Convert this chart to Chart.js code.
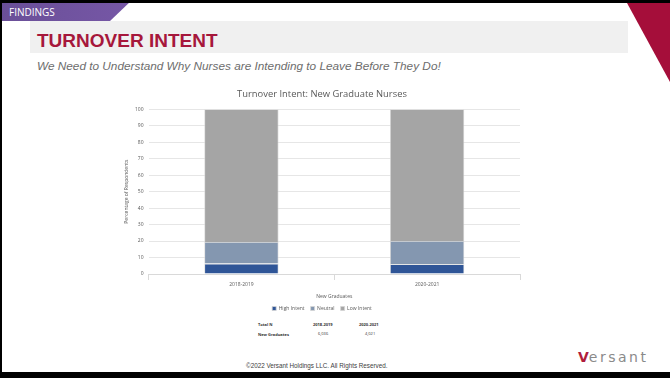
<!DOCTYPE html>
<html>
<head>
<meta charset="utf-8">
<script src="https://cdn.jsdelivr.net/npm/chart.js@4.4.1/dist/chart.umd.min.js"></script>
<style>
  body { margin: 0; background: #fff; }
  #slide { position: relative; width: 670px; height: 378px; overflow: hidden; background: #fff; font-family: "Liberation Sans", Arial, sans-serif; }
  #frame-top { position: absolute; left: 0; top: 0; width: 670px; height: 3px; background: #000; }
  #frame-left { position: absolute; left: 0; top: 0; width: 2px; height: 378px; background: #000; }
  #frame-bottom { position: absolute; left: 0; top: 372px; width: 670px; height: 6px; background: #000; }
  #deco { position: absolute; left: 0; top: 0; }
  #band { position: absolute; left: 30px; top: 21px; width: 598px; height: 32px; background: #f0f0f0; }
  #tab-text { position: absolute; left: 9px; top: 5px; color: #fff; font-family: "Open Sans", sans-serif; font-size: 10px; }
  #title { position: absolute; left: 37px; top: 30px; color: #a6173b; font-weight: bold; font-size: 19px; }
  #subtitle { position: absolute; left: 37px; top: 59px; color: #6d6d6d; font-style: italic; font-size: 11.8px; }
  #chart-box { position: absolute; left: 100px; top: 86px; width: 460px; height: 235px; }
  .tbl { position: absolute; font-family: "Open Sans", sans-serif; font-size: 4px; font-weight: bold; color: #333; }
  #copyright { position: absolute; left: 246px; top: 362px; font-size: 6.3px; color: #404040; }
  #logo { position: absolute; left: 578px; top: 349px; font-family: "DejaVu Sans", sans-serif; font-size: 14px; letter-spacing: 2.5px; color: #8a8a8a; }
  #logo span { color: #b01c3c; font-weight: bold; letter-spacing: 0; }
</style>
</head>
<body>
<div id="slide">
  <div id="band"></div>
  <svg id="deco" width="670" height="378">
    <defs>
      <linearGradient id="tabg" x1="0" x2="1" y1="0" y2="0">
        <stop offset="0" stop-color="#6a4f98"/>
        <stop offset="1" stop-color="#7657a6"/>
      </linearGradient>
    </defs>
    <polygon points="0,0 132,0 110,21 0,21" fill="url(#tabg)"/>
    <polygon points="627,3 670,3 670,82" fill="#a50e3a"/>
  </svg>
  <div id="frame-top"></div>
  <div id="frame-left"></div>
  <div id="tab-text">FINDINGS</div>
  <div id="title">TURNOVER INTENT</div>
  <div id="subtitle">We Need to Understand Why Nurses are Intending to Leave Before They Do!</div>
  <div id="chart-box"><canvas id="chart"></canvas></div>
  <div class="tbl" style="left:258px; top:322px;">Total N</div>
  <div class="tbl" style="left:313px; top:322px;">2018-2019</div>
  <div class="tbl" style="left:359px; top:322px;">2020-2021</div>
  <div class="tbl" style="left:258px; top:332px;">New Graduates</div>
  <div class="tbl" style="left:318px; top:331px; font-weight:normal;">6,036</div>
  <div class="tbl" style="left:365px; top:331px; font-weight:normal;">4,021</div>
  <div id="copyright">©2022 Versant Holdings LLC. All Rights Reserved.</div>
  <div id="logo"><span>V</span>ersant</div>
  <div id="frame-bottom"></div>
</div>
<script>
// Turnover intent, new graduate nurses (% of respondents)
const years = ['2018-2019', '2020-2021'];
const highIntent = [6.3, 5.9];
const neutral = [13.2, 14.2];
const lowIntent = [80.5, 79.9];

const axisFont = { family: 'Open Sans', size: 5 };
const grey = '#595959';

const ctx = document.getElementById('chart').getContext('2d');
new Chart(ctx, {
    type: 'bar',
    data: {
        labels: years,
        datasets: [
            { label: 'High Intent', data: highIntent, backgroundColor: '#2f5597' },
            { label: 'Neutral', data: neutral, backgroundColor: '#8497b0' },
            { label: 'Low Intent', data: lowIntent, backgroundColor: '#a5a5a5' }
        ].map(d => Object.assign(d, {
            borderColor: '#d6d6d6',
            borderWidth: 0.8,
            barPercentage: 0.4,
            categoryPercentage: 1
        }))
    },
    options: {
        responsive: true,
        maintainAspectRatio: false,
        animation: false,
        layout: { padding: { left: 24, right: 40, top: 0, bottom: 0 } },
        plugins: {
            title: {
                display: true,
                text: 'Turnover Intent: New Graduate Nurses',
                color: grey,
                font: { family: 'Open Sans', size: 9.4, weight: 'normal' },
                padding: { top: 3, bottom: 9 }
            },
            legend: {
                position: 'bottom',
                labels: {
                    color: grey,
                    font: axisFont,
                    boxWidth: 4,
                    boxHeight: 4,
                    padding: 6
                }
            },
            tooltip: { enabled: false }
        },
        scales: {
            x: {
                stacked: true,
                grid: { display: true, offset: true, drawOnChartArea: false, drawTicks: true, tickLength: 6, color: '#d9d9d9' },
                border: { display: true, color: '#d9d9d9' },
                ticks: { color: grey, font: axisFont, padding: 2 },
                title: { display: true, text: 'New Graduates', color: grey, font: axisFont, padding: { top: 4, bottom: 0 } }
            },
            y: {
                stacked: true,
                min: 0,
                max: 100,
                ticks: { stepSize: 10, color: grey, font: axisFont, padding: 5 },
                grid: { color: '#e6e6e6', drawTicks: false },
                border: { display: false },
                title: { display: true, text: 'Percentage of Respondents', color: grey, font: axisFont, padding: { top: 0, bottom: 0 } }
            }
        }
    }
});
</script>
</body>
</html>
